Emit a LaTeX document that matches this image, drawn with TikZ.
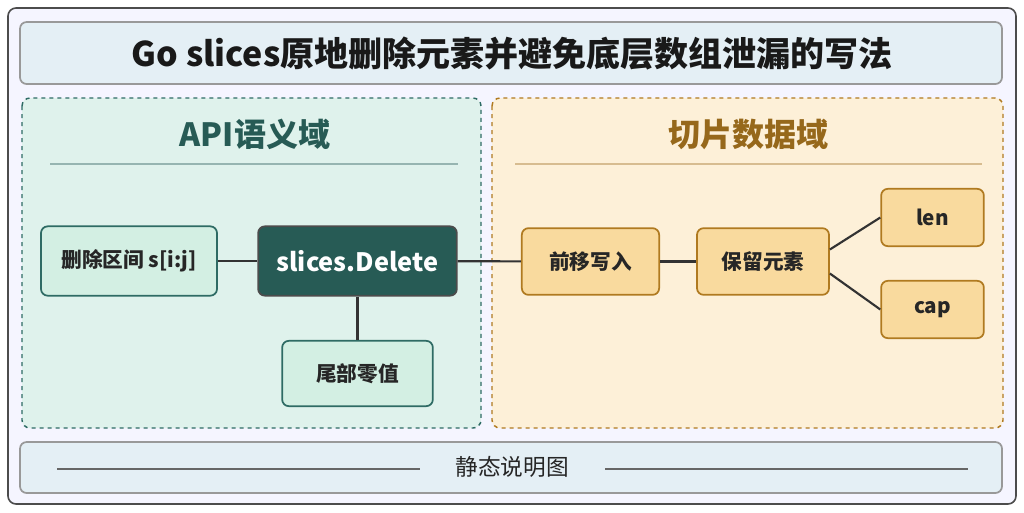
\documentclass[tikz,border=0pt]{standalone}
\usepackage{fontspec}
\setmainfont{Noto Sans CJK SC}
\begin{document}
\begin{tikzpicture}[x=0.75pt,y=-0.75pt,
  box/.style={rounded corners=5pt,line width=1.3pt},
  tnode/.style={box,fill=tealL,draw=tealD,font=\fontsize{15.5}{18}\selectfont\bfseries,text=black!85},
  onode/.style={box,fill=orgL,draw=orgD,font=\fontsize{15.5}{18}\selectfont\bfseries,text=black!85},
  edge/.style={line width=1.6pt,draw=black!80}]
\definecolor{tealL}{HTML}{D3EFE3}\definecolor{tealD}{HTML}{2E6B64}
\definecolor{orgL}{HTML}{F9DA9E}\definecolor{orgD}{HTML}{B07A20}
\definecolor{hdr}{HTML}{E4EFF5}
\definecolor{tealP}{HTML}{DFF2EC}\definecolor{orgP}{HTML}{FDF0D8}
\useasboundingbox (0,0) rectangle (1024,512);
\fill[white] (0,0) rectangle (1024,512);
\draw[rounded corners=6pt,line width=1.2pt,draw=black!70,fill=white!96!blue] (8,8) rectangle (1016,504);
\draw[box,fill=hdr,draw=black!40] (20,22) rectangle (1002,84);
\node[font=\fontsize{25.5}{30}\selectfont\bfseries,text=black!90] (title) at (512,54) {Go slices原地删除元素并避免底层数组泄漏的写法};
% panels
\draw[rounded corners=6pt,dashed,line width=1.1pt,draw=tealD,fill=tealP] (22,98) rectangle (481,428);
\draw[rounded corners=6pt,dashed,line width=1.1pt,draw=orgD,fill=orgP] (492,98) rectangle (1003,428);
\node[font=\fontsize{24}{28}\selectfont\bfseries,text=tealD!85!black] (lt) at (255,134) {API语义域};
\draw[tealD!50,line width=1pt] (50,164) -- (458,164);
\node[font=\fontsize{24}{28}\selectfont\bfseries,text=orgD!85!black] (rt) at (748,134) {切片数据域};
\draw[orgD!50,line width=1pt] (515,164) -- (982,164);
% nodes
\node[tnode,minimum width=132pt,minimum height=52pt] (rng) at (129,261) {删除区间 s[i:j]};
\node[box,fill=tealD!85!black,draw=black!70,text=white,font=\fontsize{19}{22}\selectfont\bfseries,minimum width=149pt,minimum height=52pt] (del) at (357.5,261) {slices.Delete};
\node[tnode,minimum width=113pt,minimum height=49pt] (tail) at (357.5,373.5) {尾部零值};
\node[onode,minimum width=103pt,minimum height=50pt] (mv) at (590.5,261.5) {前移写入};
\node[onode,minimum width=99pt,minimum height=50pt] (keep) at (763,261.5) {保留元素};
\node[onode,minimum width=77pt,minimum height=43pt] (len) at (932.5,217.5) {len};
\node[onode,minimum width=77pt,minimum height=43pt] (cap) at (932.5,309.5) {cap};
\draw[edge] (rng) -- (del);
\draw[edge] (del) -- (tail);
\draw[edge] (del) -- (mv);
\draw[edge] (mv) -- (keep);
\draw[edge] ([yshift=9pt]keep.east) -- (len.west);
\draw[edge] ([yshift=-9pt]keep.east) -- (cap.west);
% footer
\draw[box,fill=hdr,draw=black!40] (20,442) rectangle (1002,493);
\node[font=\fontsize{17}{20}\selectfont,text=black!85] (ft) at (512,467) {静态说明图};
\draw[black!60,line width=0.8pt] (57,469) -- (420,469);
\draw[black!60,line width=0.8pt] (605,469) -- (968,469);
\end{tikzpicture}
\end{document}
